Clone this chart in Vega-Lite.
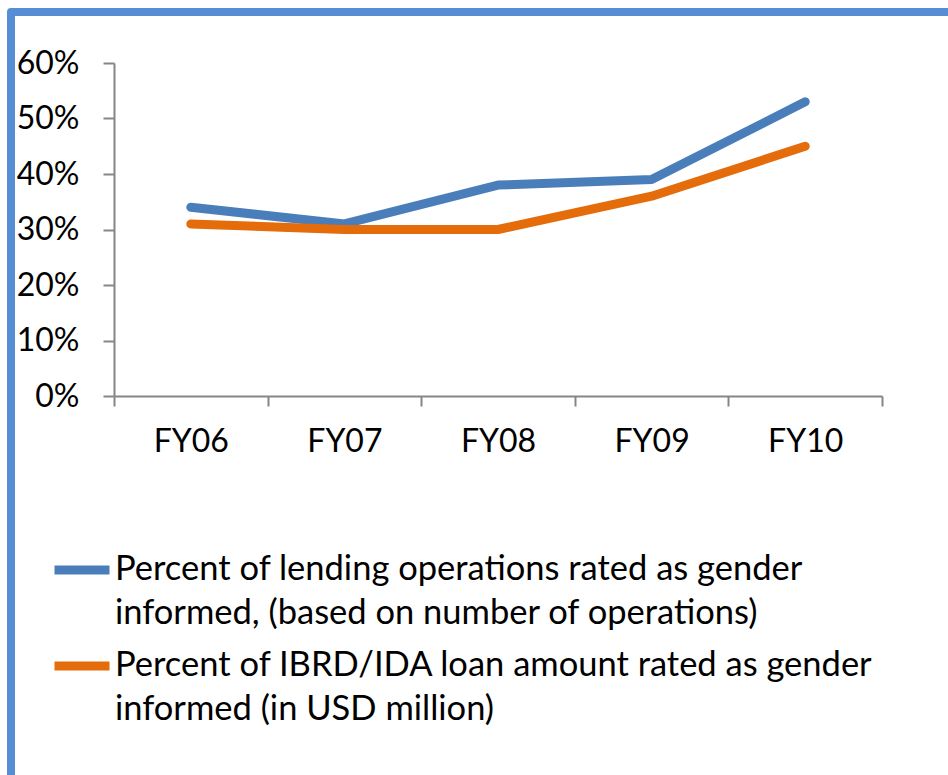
{
  "$schema": "https://vega.github.io/schema/vega-lite/v6.json",
  "autosize": "none",
  "width": 937,
  "height": 763,
  "padding": {"left": 11, "top": 12, "right": 0, "bottom": 0},
  "background": "white",
  "data": {
    "values": [
      {"fy": "FY06", "series": "Percent of lending operations rated as gender informed, (based on number of operations)", "value": 0.34},
      {"fy": "FY07", "series": "Percent of lending operations rated as gender informed, (based on number of operations)", "value": 0.31},
      {"fy": "FY08", "series": "Percent of lending operations rated as gender informed, (based on number of operations)", "value": 0.38},
      {"fy": "FY09", "series": "Percent of lending operations rated as gender informed, (based on number of operations)", "value": 0.39},
      {"fy": "FY10", "series": "Percent of lending operations rated as gender informed, (based on number of operations)", "value": 0.53},
      {"fy": "FY06", "series": "Percent of IBRD/IDA loan amount rated as gender informed (in USD million)", "value": 0.31},
      {"fy": "FY07", "series": "Percent of IBRD/IDA loan amount rated as gender informed (in USD million)", "value": 0.30},
      {"fy": "FY08", "series": "Percent of IBRD/IDA loan amount rated as gender informed (in USD million)", "value": 0.30},
      {"fy": "FY09", "series": "Percent of IBRD/IDA loan amount rated as gender informed (in USD million)", "value": 0.36},
      {"fy": "FY10", "series": "Percent of IBRD/IDA loan amount rated as gender informed (in USD million)", "value": 0.45}
    ]
  },
  "mark": {"type": "line", "strokeWidth": 9, "strokeCap": "round", "strokeJoin": "round"},
  "encoding": {
    "x": {
      "field": "fy",
      "type": "nominal",
      "sort": null,
      "scale": {"type": "band", "range": [103, 871], "paddingInner": 0, "paddingOuter": 0},
      "axis": {
        "title": null,
        "labelAngle": 0,
        "offset": -379,
        "tickBand": "extent",
        "tickSize": 10,
        "labelPadding": 20
      }
    },
    "y": {
      "field": "value",
      "type": "quantitative",
      "scale": {"domain": [0, 0.6], "range": [384, 51], "nice": false, "zero": true},
      "axis": {
        "title": null,
        "format": ".0%",
        "values": [0, 0.1, 0.2, 0.3, 0.4, 0.5, 0.6],
        "offset": -103,
        "tickSize": 11,
        "labelPadding": 24,
        "grid": false
      }
    },
    "color": {
      "field": "series",
      "type": "nominal",
      "scale": {
        "domain": [
          "Percent of lending operations rated as gender informed, (based on number of operations)",
          "Percent of IBRD/IDA loan amount rated as gender informed (in USD million)"
        ],
        "range": ["#4A7EBB", "#E46C0A"]
      },
      "legend": {
        "title": null,
        "orient": "none",
        "legendX": 39,
        "legendY": 526,
        "direction": "vertical",
        "symbolType": "stroke",
        "symbolSize": 3025,
        "symbolStrokeWidth": 9,
        "labelOffset": 1,
        "labelLimit": 1000,
        "rowPadding": 3,
        "labelFontSize": 34.5,
        "labelExpr": "[slice(datum.label, 0, indexof(datum.label, ' informed')), slice(datum.label, indexof(datum.label, ' informed') + 1)]"
      }
    }
  },
  "config": {
    "font": "Lato",
    "view": {
      "stroke": "#558ED5",
      "strokeWidth": 8,
      "strokeDash": [937, 1700, 763, 0],
      "strokeJoin": "round",
      "strokeCap": "round"
    },
    "axis": {
      "domainColor": "#868686",
      "domainWidth": 2,
      "tickColor": "#868686",
      "tickWidth": 2,
      "labelFont": "Lato",
      "labelFontSize": 32,
      "labelColor": "#000000"
    },
    "legend": {
      "labelFont": "Lato",
      "labelColor": "#000000",
      "padding": 0
    },
    "style": {
      "guide-label": {"lineHeight": 44}
    }
  }
}
